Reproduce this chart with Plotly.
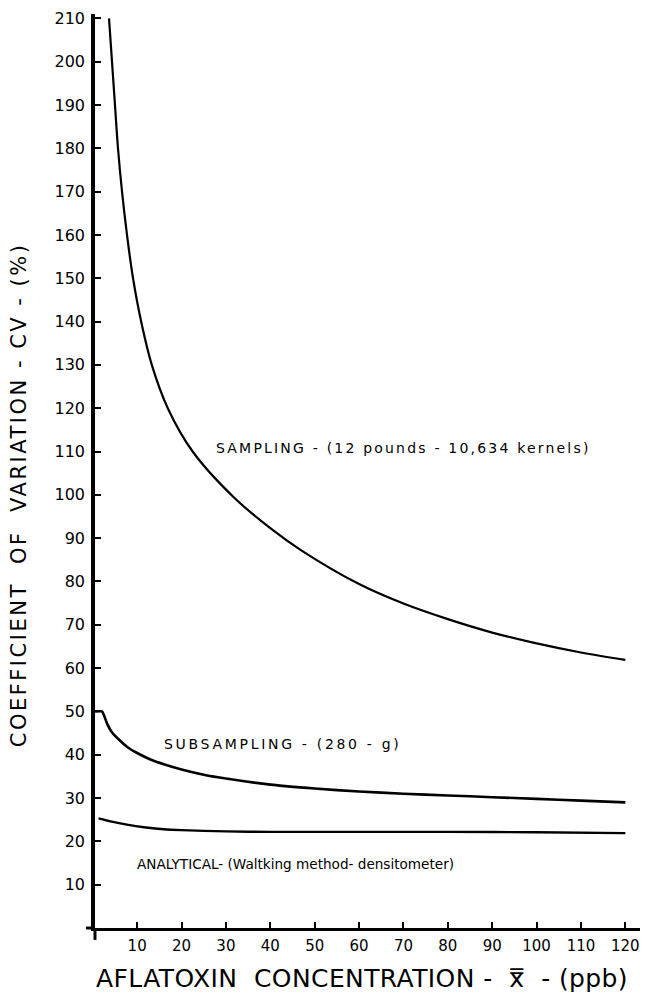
import plotly.graph_objects as go

# Data
samp_x = [3.66, 4.33, 5.0, 5.68, 6.59, 7.71, 9.07, 10.9, 13.3, 16.9, 22.5, 31.7, 40, 46.8, 60, 70, 80, 90, 100, 110, 120]
samp_y = [210, 200, 190, 180, 170, 160, 150, 140, 130, 120, 110, 99.5, 92.3, 87.3, 79.4, 74.9, 71.3, 68.2, 65.7, 63.6, 61.9]

sub_x = [0.5, 2.1, 2.6, 3.3, 4.3, 6.0, 8, 10, 13, 16, 20, 25, 30, 40, 50, 60, 70, 80, 90, 100, 110, 120]
sub_y = [50, 50, 48.9, 47.0, 45.2, 43.4, 41.6, 40.4, 38.9, 37.8, 36.6, 35.4, 34.5, 33.1, 32.2, 31.5, 31.0, 30.6, 30.2, 29.8, 29.4, 29.0]

ana_x = [1.3, 4, 8, 12, 16, 20, 30, 40, 60, 80, 100, 120]
ana_y = [25.3, 24.6, 23.8, 23.2, 22.8, 22.6, 22.3, 22.2, 22.2, 22.2, 22.1, 21.9]

x_ticks = [10, 20, 30, 40, 50, 60, 70, 80, 90, 100, 110, 120]
y_ticks = list(range(10, 211, 10))

labels = ["SAMPLING - (12 pounds - 10,634 kernels)",
          "SUBSAMPLING - (280 - g)",
          "ANALYTICAL- (Waltking method- densitometer)"]
label_x = [27.3, 15.5, 9.6]
label_y = [110.9, 42.4, 14.7]
label_spacing = [2.2, 2.7, 0.0]
label_size = [14, 14, 13.6]

FONT = "DejaVu Sans"


def spaced(text, px):
    return f'<span style="letter-spacing:{px}px">{text}</span>'


fig = go.Figure()
for xs, ys, w, sm in [(samp_x, samp_y, 2.2, 1.0), (sub_x, sub_y, 2.6, 0.5), (ana_x, ana_y, 2.4, 0.6)]:
    fig.add_trace(go.Scatter(x=xs, y=ys, mode="lines",
                             line=dict(color="black", width=w, shape="spline", smoothing=sm),
                             showlegend=False, hoverinfo="skip"))

for t, lx, ly, sp, sz in zip(labels, label_x, label_y, label_spacing, label_size):
    fig.add_annotation(x=lx, y=ly, xref="x", yref="y", text=spaced(t, sp), showarrow=False,
                       xanchor="left", yanchor="middle",
                       font=dict(family=FONT, size=sz, color="black"))

# axis titles
fig.add_annotation(x=0.49, y=-0.0555, xref="paper", yref="paper",
                   text=spaced("AFLATOXIN  CONCENTRATION -  x\u033f  - (ppb)", 0.4), showarrow=False,
                   xanchor="center", yanchor="middle",
                   font=dict(family=FONT, size=25, color="black"))
fig.add_annotation(x=-0.1404, y=0.474, xref="paper", yref="paper",
                   text=spaced("COEFFICIENT  OF  VARIATION - CV - (%)", 2.5), showarrow=False,
                   textangle=-90, xanchor="center", yanchor="middle",
                   font=dict(family=FONT, size=21, color="black"))

# small axis overhangs
fig.add_shape(type="line", xref="paper", yref="paper", x0=-0.0165, x1=0, y0=0, y1=0,
              line=dict(color="black", width=3))
fig.add_shape(type="line", xref="paper", yref="paper", x0=0, x1=0, y0=-0.013, y1=0,
              line=dict(color="black", width=3))

fig.update_xaxes(range=[0.5, 123.3], tickvals=x_ticks, ticktext=[str(v) for v in x_ticks],
                 ticks="inside", ticklen=6, tickwidth=2, tickcolor="black",
                 showline=True, linewidth=3, linecolor="black",
                 showgrid=False, zeroline=False, ticklabelstandoff=2,
                 tickfont=dict(family=FONT, size=15, color="black"))
fig.update_yaxes(range=[0, 211], tickvals=y_ticks, ticktext=[str(v) for v in y_ticks],
                 ticks="inside", ticklen=6, tickwidth=2, tickcolor="black",
                 showline=True, linewidth=3.5, linecolor="black",
                 showgrid=False, zeroline=False, ticklabelstandoff=3,
                 tickfont=dict(family=FONT, size=16, color="black"))

fig.update_layout(width=645, height=992, margin=dict(l=95, r=5, t=14, b=64),
                  paper_bgcolor="white", plot_bgcolor="white")

fig.write_html("out.html")
